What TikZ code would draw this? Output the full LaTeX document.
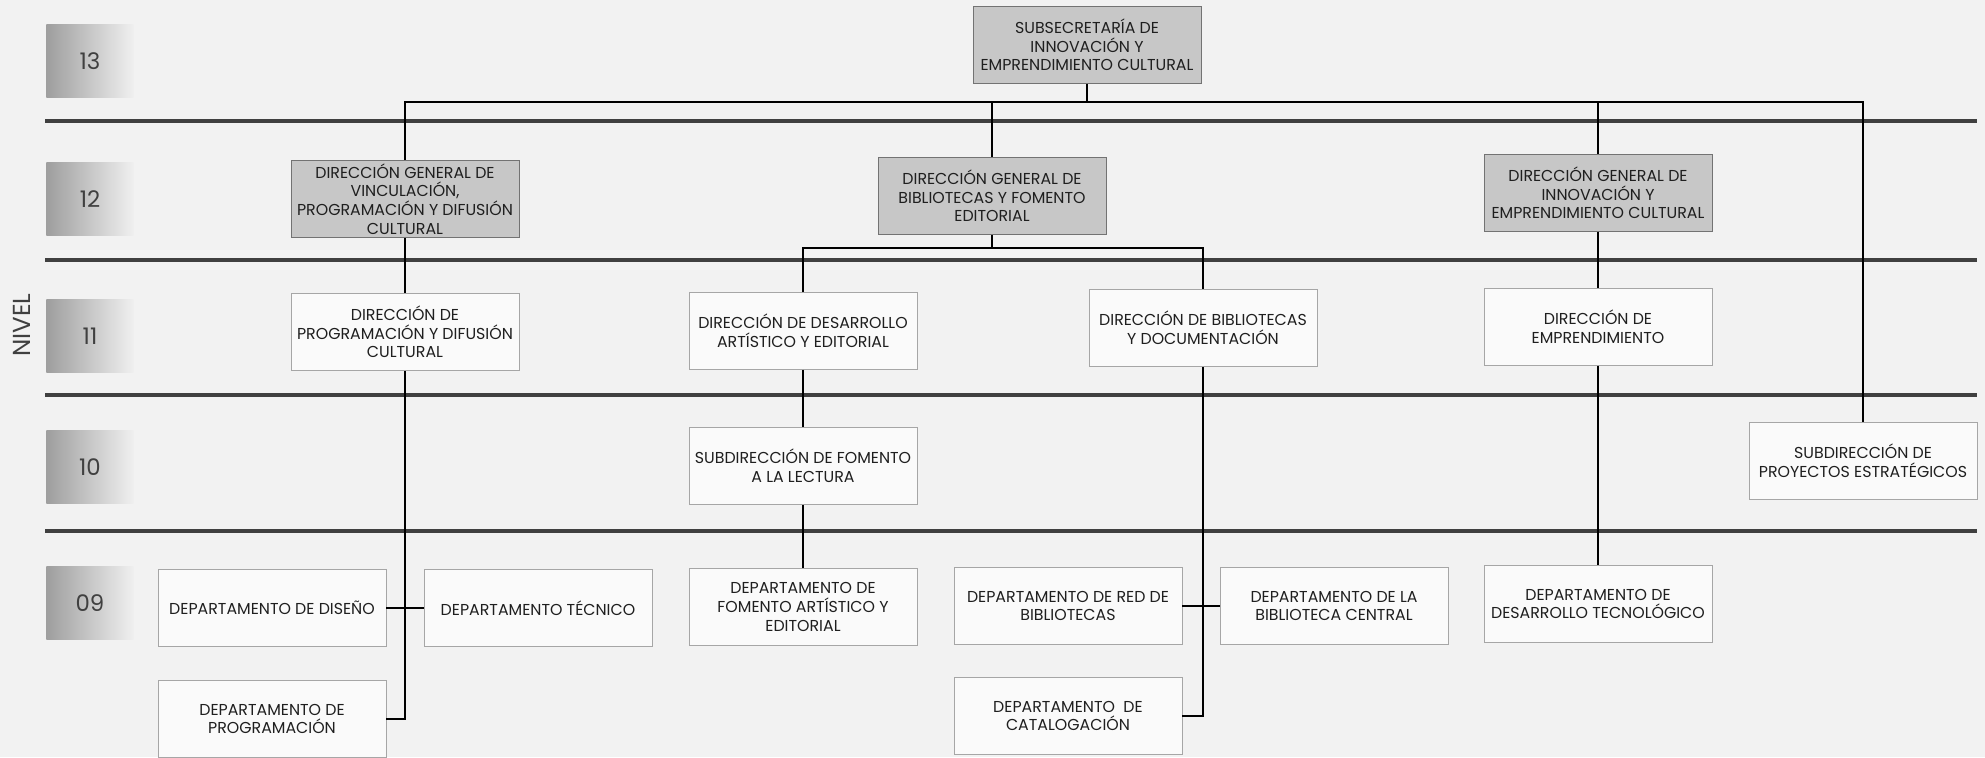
\documentclass[tikz,border=0pt]{standalone}
\usepackage{fontspec}
\setmainfont{Poppins}
\tikzset{
	unidad/.style={draw=black!35, fill=black!2, line width=0.4pt,
			minimum width=45.6mm, minimum height=15.4mm, inner sep=0pt,
			align=center, text=black!88, font=\fontsize{9}{10.6}\selectfont},
	general/.style={unidad, draw=black!55, fill=black!22},
	nivel/.style={minimum width=17.4mm, minimum height=14.6mm,
			left color=black!38, right color=black!6, text=black!75,
			font=\fontsize{13}{13}\selectfont},
	barra/.style={line width=0.8mm, black!75},
	enlace/.style={line width=0.3mm, black}
}

\begin{document}
\begin{tikzpicture}[x=0.2mm, y=-0.2mm]

	\fill[black!5] (0,0) rectangle (1985,757);
	\useasboundingbox (0,0) rectangle (1985,757);

	% niveles
	\node[nivel] (n13) at (90,61) {13};
	\node[nivel] (n12) at (90,199) {12};
	\node[nivel] (n11) at (90,336) {11};
	\node[nivel] (n10) at (90,467) {10};
	\node[nivel] (n09) at (90,603) {09};
	\node[rotate=90, text=black!75, font=\fontsize{14}{14}\selectfont] (nivel) at (22,325) {NIVEL};

	\foreach \y in {121,260,395,531}
		\draw[barra] (45,\y) -- (1977,\y);

	% nivel 13 y 12
	\node[general] (sub) at (1087,45) {SUBSECRETARÍA DE\\INNOVACIÓN Y\\EMPRENDIMIENTO CULTURAL};
	\node[general] (dgv) at (405,199) {DIRECCIÓN GENERAL DE\\VINCULACIÓN,\\PROGRAMACIÓN Y DIFUSIÓN\\CULTURAL};
	\node[general] (dgb) at (992,196) {DIRECCIÓN GENERAL DE\\BIBLIOTECAS Y FOMENTO\\EDITORIAL};
	\node[general] (dgi) at (1598,193) {DIRECCIÓN GENERAL DE\\INNOVACIÓN Y\\EMPRENDIMIENTO CULTURAL};

	% nivel 11 y 10
	\node[unidad] (dpd) at (405,332) {DIRECCIÓN DE\\PROGRAMACIÓN Y DIFUSIÓN\\CULTURAL};
	\node[unidad] (dda) at (803,331) {DIRECCIÓN DE DESARROLLO\\ARTÍSTICO Y EDITORIAL};
	\node[unidad] (dbd) at (1203,328) {DIRECCIÓN DE BIBLIOTECAS\\Y DOCUMENTACIÓN};
	\node[unidad] (dem) at (1598,327) {DIRECCIÓN DE\\EMPRENDIMIENTO};
	\node[unidad] (sfl) at (803,466) {SUBDIRECCIÓN DE FOMENTO\\A LA LECTURA};
	\node[unidad] (spe) at (1863,461) {SUBDIRECCIÓN DE\\PROYECTOS ESTRATÉGICOS};

	% nivel 09
	\node[unidad] (ddi) at (272,608) {DEPARTAMENTO DE DISEÑO};
	\node[unidad] (dte) at (538,608) {DEPARTAMENTO TÉCNICO};
	\node[unidad] (dpr) at (272,719) {DEPARTAMENTO DE\\PROGRAMACIÓN};
	\node[unidad] (dfa) at (803,607) {DEPARTAMENTO DE\\FOMENTO ARTÍSTICO Y\\EDITORIAL};
	\node[unidad] (drb) at (1068,606) {DEPARTAMENTO DE RED DE\\BIBLIOTECAS};
	\node[unidad] (dbc) at (1334,606) {DEPARTAMENTO DE LA\\BIBLIOTECA CENTRAL};
	\node[unidad] (dca) at (1068,716) {DEPARTAMENTO\ \ DE\\CATALOGACIÓN};
	\node[unidad] (ddt) at (1598,604) {DEPARTAMENTO DE\\DESARROLLO TECNOLÓGICO};

	% conexiones
	\coordinate (bus) at (1087,102);
	\coordinate (rama) at (992,248);
	\draw[enlace] (sub) -- (bus);
	\draw[enlace] (dgv) |- (bus) -| (spe);
	\draw[enlace] (bus -| dgb) -- (dgb);
	\draw[enlace] (bus -| dgi) -- (dgi);

	\draw[enlace] (dgv) -- (dpd);
	\draw[enlace] (dpd) |- (dpr);
	\draw[enlace] (ddi) -- (dte);

	\draw[enlace] (dgb) -- (rama);
	\draw[enlace] (dda) |- (rama) -| (dbd);
	\draw[enlace] (dda) -- (sfl);
	\draw[enlace] (sfl) -- (dfa);
	\draw[enlace] (dbd) |- (dca);
	\draw[enlace] (drb) -- (dbc);

	\draw[enlace] (dgi) -- (dem);
	\draw[enlace] (dem) -- (ddt);
\end{tikzpicture}
\end{document}
